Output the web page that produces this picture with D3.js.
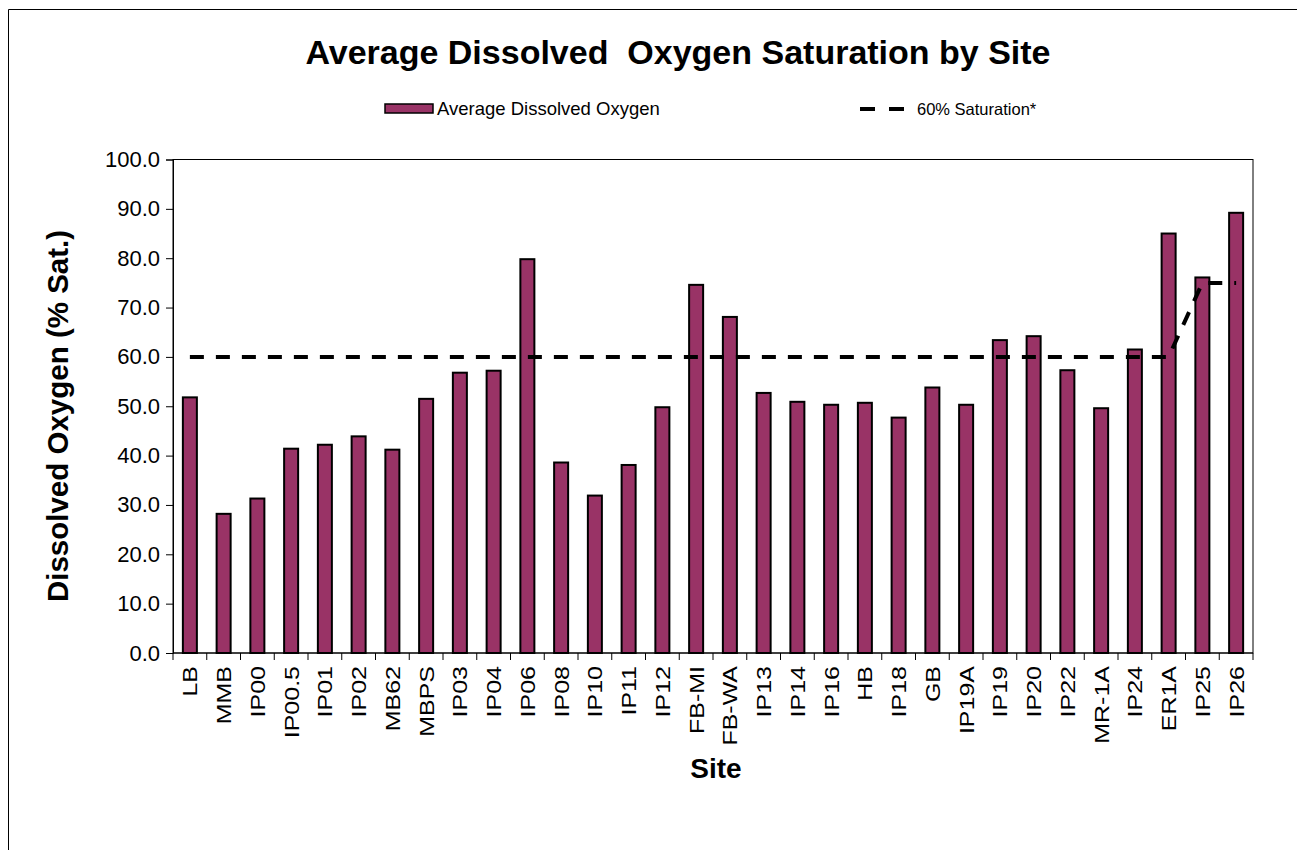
<!doctype html>
<html>
<head>
<style>
    body { margin: 0; background: #fff; }
    svg { display: block; font-family: "Liberation Sans", Arial, sans-serif; }
</style>
<script src="https://d3js.org/d3.v7.min.js"></script>
</head>
<body>

    <svg id="chart" width="1297" height="850"></svg>

    <script>

        // Data
        var sites = ["LB", "MMB", "IP00", "IP00.5", "IP01", "IP02", "MB62", "MBPS", "IP03", "IP04",
                     "IP06", "IP08", "IP10", "IP11", "IP12", "FB-MI", "FB-WA", "IP13", "IP14", "IP16",
                     "HB", "IP18", "GB", "IP19A", "IP19", "IP20", "IP22", "MR-1A", "IP24", "ER1A",
                     "IP25", "IP26"];
        var avgDO = [51.8, 28.2, 31.3, 41.4, 42.2, 43.9, 41.2, 51.5, 56.8, 57.2,
                     79.8, 38.6, 31.9, 38.1, 49.8, 74.6, 68.1, 52.7, 50.9, 50.3,
                     50.7, 47.7, 53.8, 50.3, 63.4, 64.2, 57.3, 49.6, 61.5, 85.0,
                     76.1, 89.2];
        var saturation = [60, 60, 60, 60, 60, 60, 60, 60, 60, 60,
                          60, 60, 60, 60, 60, 60, 60, 60, 60, 60,
                          60, 60, 60, 60, 60, 60, 60, 60, 60, 60,
                          75, 75];
        var yTicks = [0, 10, 20, 30, 40, 50, 60, 70, 80, 90, 100];

        var svg = d3.select("#chart");
        var plot = { left: 173, right: 1253, top: 159.5, bottom: 653 };

        // outer frame of the picture
        svg.append("path")
          .attr("d", "M8.5,850V9.5H1297")
          .attr("fill", "none")
          .attr("stroke", "#000")
          .attr("stroke-width", 1);

        var x = d3.scaleBand()
          .domain(sites)
          .range([plot.left, plot.right])
          .paddingInner(0.585)
          .paddingOuter(0.2925);

        var y = d3.scaleLinear()
          .domain([0, 100])
          .range([plot.bottom, plot.top]);

        // plot area border
        svg.append("rect")
          .attr("x", plot.left)
          .attr("y", plot.top)
          .attr("width", plot.right - plot.left)
          .attr("height", plot.bottom - plot.top)
          .attr("fill", "none")
          .attr("stroke", "#000")
          .attr("stroke-width", 1);

        // y axis
        var yAxis = svg.append("g")
          .attr("transform", "translate(" + plot.left + ",0)")
          .call(d3.axisLeft(y).tickValues(yTicks).tickFormat(d3.format(".1f")).tickSize(7).tickPadding(6));
        yAxis.select(".domain").attr("stroke", "#000");
        yAxis.selectAll("text")
          .attr("font-size", 22)
          .attr("fill", "#000")
          .attr("font-family", "Liberation Sans, Arial, sans-serif");

        // x axis: ticks sit on the category boundaries
        var step = x.step();
        var bounds = d3.range(sites.length + 1).map(function (i) { return plot.left + i * step; });
        var xAxis = svg.append("g");
        xAxis.append("line")
          .attr("x1", plot.left).attr("x2", plot.right)
          .attr("y1", plot.bottom).attr("y2", plot.bottom)
          .attr("stroke", "#000");
        xAxis.selectAll("line.tick")
          .data(bounds)
          .enter()
          .append("line")
            .attr("class", "tick")
            .attr("x1", function (d) { return d; })
            .attr("x2", function (d) { return d; })
            .attr("y1", plot.bottom)
            .attr("y2", plot.bottom + 7)
            .attr("stroke", "#000");
        xAxis.selectAll("text")
          .data(sites)
          .enter()
          .append("text")
            .attr("transform", function (d) {
              return "translate(" + (x(d) + x.bandwidth() / 2 + 7.5) + "," + (plot.bottom + 13) + ") rotate(-90) scale(1.25,1)";
            })
            .attr("text-anchor", "end")
            .attr("font-size", 20)
            .text(function (d) { return d; });

        // bars
        svg.append("g")
          .selectAll("rect")
          .data(sites)
          .enter()
          .append("rect")
            .attr("x", function (d) { return x(d); })
            .attr("y", function (d, i) { return y(avgDO[i]); })
            .attr("width", x.bandwidth())
            .attr("height", function (d, i) { return plot.bottom - y(avgDO[i]); })
            .attr("fill", "#993366")
            .attr("stroke", "#000")
            .attr("stroke-width", 2);

        // 60% saturation line
        var line = d3.line()
          .x(function (d, i) { return x(sites[i]) + x.bandwidth() / 2; })
          .y(function (d) { return y(d); });
        svg.append("path")
          .datum(saturation)
          .attr("d", line)
          .attr("fill", "none")
          .attr("stroke", "#000")
          .attr("stroke-width", 4)
          .attr("stroke-dasharray", "14,12");

        // title
        svg.append("text")
          .attr("x", 678)
          .attr("y", 64)
          .attr("text-anchor", "middle")
          .attr("font-size", 34)
          .attr("font-weight", "bold")
          .style("white-space", "pre")
          .text("Average Dissolved  Oxygen Saturation by Site");

        // axis titles
        svg.append("text")
          .attr("transform", "translate(68,416) rotate(-90)")
          .attr("text-anchor", "middle")
          .attr("font-size", 29.5)
          .attr("font-weight", "bold")
          .text("Dissolved Oxygen (% Sat.)");

        svg.append("text")
          .attr("x", 716)
          .attr("y", 778)
          .attr("text-anchor", "middle")
          .attr("font-size", 28)
          .attr("font-weight", "bold")
          .text("Site");

        // legend
        var legend = svg.append("g");
        legend.append("rect")
          .attr("x", 385).attr("y", 104)
          .attr("width", 48).attr("height", 9)
          .attr("fill", "#993366")
          .attr("stroke", "#000")
          .attr("stroke-width", 1.5);
        legend.append("text")
          .attr("x", 437).attr("y", 115)
          .attr("font-size", 18.5)
          .text("Average Dissolved Oxygen");
        legend.append("line")
          .attr("x1", 860).attr("x2", 904)
          .attr("y1", 109).attr("y2", 109)
          .attr("stroke", "#000")
          .attr("stroke-width", 4)
          .attr("stroke-dasharray", "15,14");
        legend.append("text")
          .attr("x", 917).attr("y", 115)
          .attr("font-size", 16.5)
          .text("60% Saturation*");

    </script>

</body>
</html>
